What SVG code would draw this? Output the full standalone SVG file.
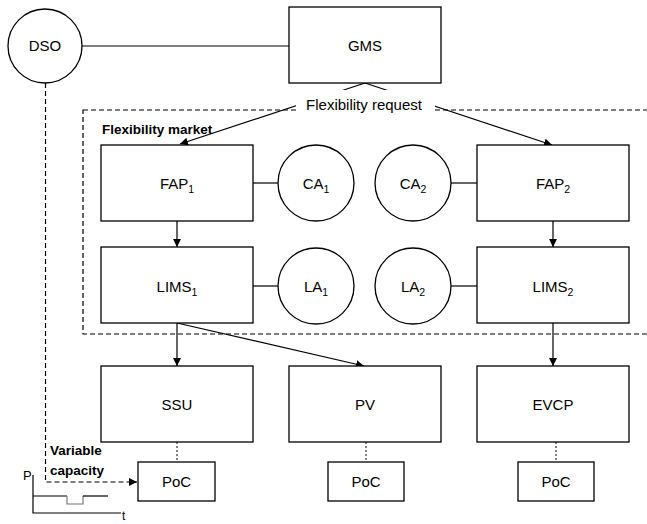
<svg xmlns="http://www.w3.org/2000/svg" width="647" height="524" viewBox="0 0 647 524">
  <style>
    .box { fill: #fff; stroke: #000; stroke-width: 1.3; }
    .lbl { font-family: "Liberation Sans", Arial, sans-serif; font-size: 15px; fill: #000; text-anchor: middle; }
    .bold { font-family: "Liberation Sans", Arial, sans-serif; font-size: 13.5px; font-weight: bold; fill: #000; }
    .ln { stroke: #000; stroke-width: 1.2; fill: none; }
    .arr { stroke: #000; stroke-width: 1.2; fill: none; marker-end: url(#ah); }
    .dash { stroke: #000; stroke-width: 1.2; fill: none; stroke-dasharray: 5 3; }
    .dot { stroke: #333; stroke-width: 1.2; fill: none; stroke-dasharray: 2 2; }
  </style>
  <defs>
    <marker id="ah" viewBox="0 0 10 10" refX="10" refY="5" markerWidth="8" markerHeight="8" markerUnits="userSpaceOnUse" orient="auto">
      <path d="M0,0 L10,5 L0,10 z" fill="#000"/>
    </marker>
  </defs>
  <rect width="647" height="524" fill="#fff"/>

  <!-- flexibility market boundary (right side runs past the page edge) -->
  <rect id="market" x="83" y="110" width="570" height="224" class="dash"/>

  <g id="connectors">
    <line x1="82" y1="46" x2="289" y2="46" class="ln"/>
    <line x1="365" y1="83" x2="180" y2="144" class="arr"/>
    <line x1="365" y1="83" x2="552" y2="145" class="arr"/>
    <line x1="177" y1="221" x2="177" y2="247" class="arr"/>
    <line x1="553" y1="221" x2="553" y2="247" class="arr"/>
    <line x1="253" y1="183" x2="278" y2="183" class="ln"/>
    <line x1="451" y1="183" x2="477" y2="183" class="ln"/>
    <line x1="253" y1="286" x2="278" y2="286" class="ln"/>
    <line x1="451" y1="286" x2="477" y2="286" class="ln"/>
    <line x1="177" y1="323" x2="177" y2="366" class="arr"/>
    <line x1="177" y1="323" x2="364" y2="366" class="arr"/>
    <line x1="553" y1="323" x2="553" y2="366" class="arr"/>
    <line x1="177" y1="442" x2="177" y2="462" class="dot"/>
    <line x1="366" y1="442" x2="366" y2="462" class="dot"/>
    <line x1="556" y1="442" x2="556" y2="462" class="dot"/>
    <polyline points="45.5,83 45.5,482 137,482" class="dash" marker-end="url(#ah)"/>
  </g>

  <!-- request label sits over the arrows and the boundary -->
  <g id="request">
    <rect x="296" y="90" width="139" height="25" fill="#fff"/>
    <text x="364" y="110" class="lbl" font-size="14">Flexibility request</text>
  </g>
  <text x="102" y="134" class="bold">Flexibility market</text>

  <g id="dso">
    <circle cx="45" cy="46" r="37" class="box"/>
    <text x="45" y="51" class="lbl">DSO</text>
  </g>
  <g id="gms">
    <rect x="289" y="7" width="152" height="76" class="box"/>
    <text x="365" y="51" class="lbl">GMS</text>
  </g>

  <g id="fap1">
    <rect x="101" y="145" width="152" height="76" class="box"/>
    <text x="177" y="189" class="lbl">FAP<tspan dy="4" font-size="10.5">1</tspan></text>
  </g>
  <g id="ca1">
    <circle cx="316" cy="183" r="38" class="box"/>
    <text x="316" y="189" class="lbl">CA<tspan dy="4" font-size="10.5">1</tspan></text>
  </g>
  <g id="ca2">
    <circle cx="413" cy="183" r="38" class="box"/>
    <text x="413" y="189" class="lbl">CA<tspan dy="4" font-size="10.5">2</tspan></text>
  </g>
  <g id="fap2">
    <rect x="477" y="145" width="152" height="76" class="box"/>
    <text x="553" y="189" class="lbl">FAP<tspan dy="4" font-size="10.5">2</tspan></text>
  </g>

  <g id="lims1">
    <rect x="101" y="247" width="152" height="76" class="box"/>
    <text x="177" y="292" class="lbl">LIMS<tspan dy="4" font-size="10.5">1</tspan></text>
  </g>
  <g id="la1">
    <circle cx="316" cy="286" r="38" class="box"/>
    <text x="316" y="292" class="lbl">LA<tspan dy="4" font-size="10.5">1</tspan></text>
  </g>
  <g id="la2">
    <circle cx="413" cy="286" r="38" class="box"/>
    <text x="413" y="292" class="lbl">LA<tspan dy="4" font-size="10.5">2</tspan></text>
  </g>
  <g id="lims2">
    <rect x="477" y="247" width="152" height="76" class="box"/>
    <text x="553" y="292" class="lbl">LIMS<tspan dy="4" font-size="10.5">2</tspan></text>
  </g>

  <g id="ssu">
    <rect x="101" y="366" width="152" height="76" class="box"/>
    <text x="177" y="410" class="lbl">SSU</text>
  </g>
  <g id="pv">
    <rect x="289" y="366" width="152" height="76" class="box"/>
    <text x="365" y="410" class="lbl">PV</text>
  </g>
  <g id="evcp">
    <rect x="477" y="366" width="152" height="76" class="box"/>
    <text x="553" y="410" class="lbl">EVCP</text>
  </g>

  <g id="poc1">
    <rect x="138" y="462" width="77" height="39" class="box"/>
    <text x="176.5" y="487" class="lbl">PoC</text>
  </g>
  <g id="poc2">
    <rect x="328" y="462" width="76" height="39" class="box"/>
    <text x="366" y="487" class="lbl">PoC</text>
  </g>
  <g id="poc3">
    <rect x="518" y="462" width="76" height="39" class="box"/>
    <text x="556" y="487" class="lbl">PoC</text>
  </g>

  <text x="50" y="455" class="bold">Variable</text>
  <text x="50" y="475" class="bold">capacity</text>

  <!-- capacity profile sketch -->
  <g id="profile">
    <text x="23" y="480" font-family="Liberation Sans, Arial, sans-serif" font-size="13">P</text>
    <polyline points="33,475 33,513 121,513" class="ln"/>
    <text x="122" y="520" font-family="Liberation Sans, Arial, sans-serif" font-size="12">t</text>
    <line x1="33" y1="496" x2="67" y2="496" class="ln"/>
    <polyline points="67,496 67,504 83,504 83,496" fill="none" stroke="#777" stroke-width="1.2"/>
    <line x1="83" y1="496" x2="108" y2="496" class="ln"/>
  </g>
</svg>
